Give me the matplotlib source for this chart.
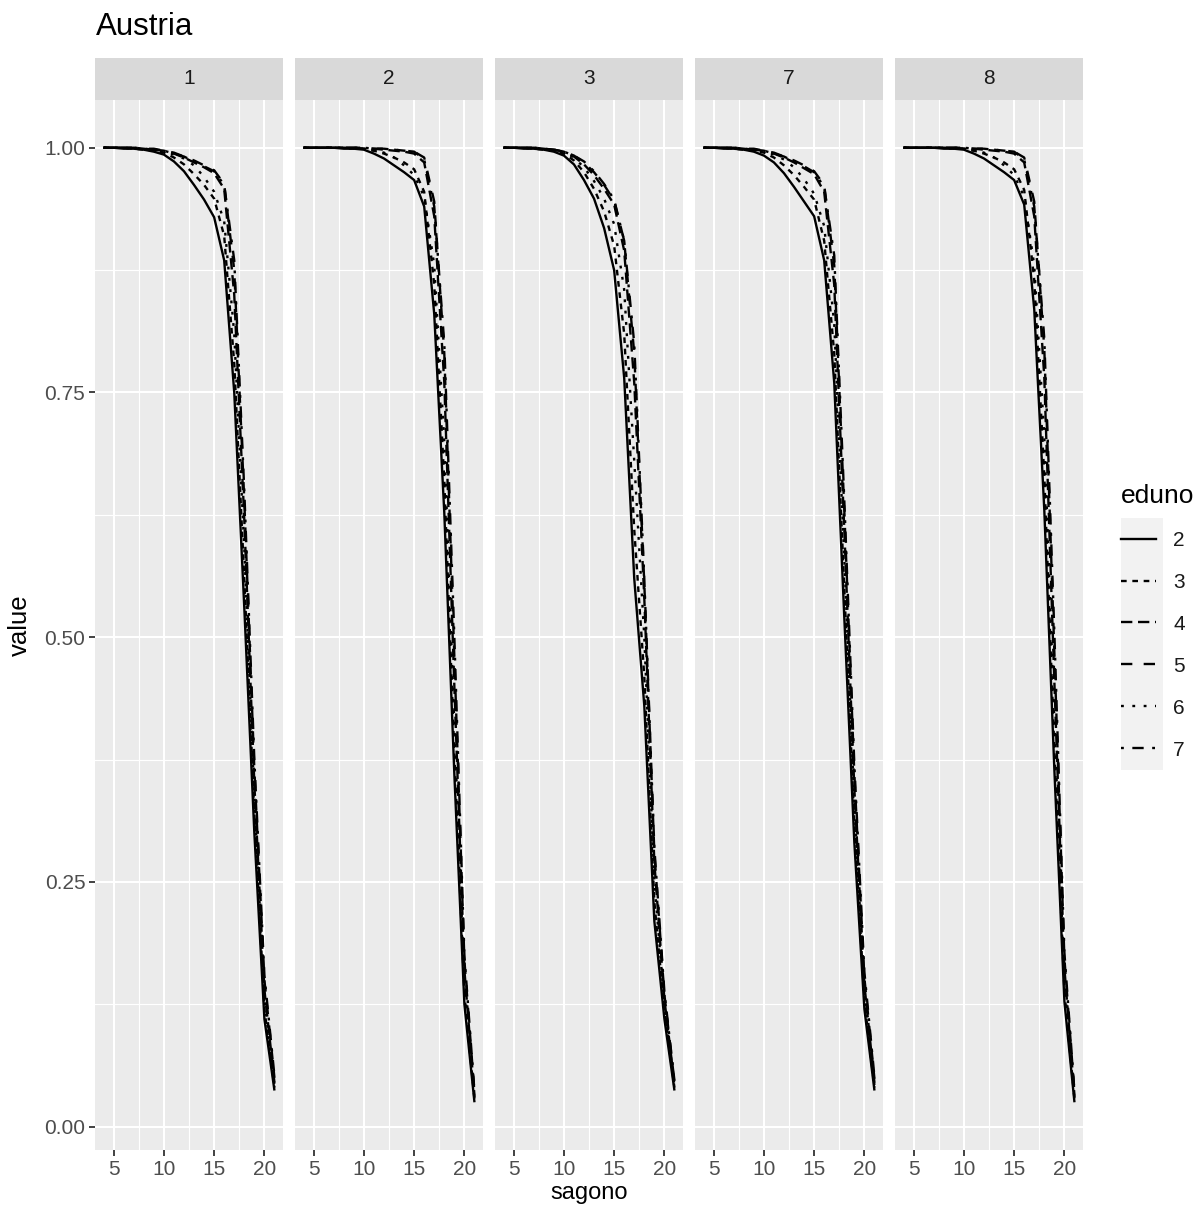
import matplotlib
matplotlib.use('Agg')
import matplotlib.pyplot as plt
from matplotlib.lines import Line2D
from matplotlib.patches import Rectangle
import numpy as np

plt.rcParams['font.family'] = ['Liberation Sans', 'DejaVu Sans']

# --- data ---
country = 'Austria'
ages = [4, 5, 6, 7, 8, 9, 10, 11, 12, 13, 14, 15, 16, 17, 18, 19, 20, 21]
facets = ['1', '2', '3', '7', '8']
edu_levels = ['2', '3', '4', '5', '6', '7']

f1_e2 = [1.000, 1.000, 0.999, 0.999, 0.998, 0.996, 0.993, 0.986, 0.976, 0.962, 0.947, 0.929, 0.885, 0.750, 0.530, 0.300, 0.110, 0.037]
f1_e3 = [1.000, 1.000, 1.000, 0.999, 0.998, 0.997, 0.995, 0.990, 0.983, 0.973, 0.962, 0.948, 0.910, 0.780, 0.560, 0.320, 0.120, 0.040]
f1_e4 = [1.000, 1.000, 1.000, 1.000, 0.999, 0.998, 0.997, 0.994, 0.990, 0.985, 0.980, 0.974, 0.958, 0.850, 0.620, 0.350, 0.140, 0.045]
f1_e5 = [1.000, 1.000, 1.000, 1.000, 0.999, 0.999, 0.997, 0.995, 0.991, 0.987, 0.982, 0.977, 0.963, 0.875, 0.640, 0.365, 0.150, 0.050]
f1_e6 = [1.000, 1.000, 1.000, 0.999, 0.999, 0.998, 0.996, 0.993, 0.989, 0.982, 0.970, 0.955, 0.925, 0.810, 0.590, 0.335, 0.130, 0.042]
f1_e7 = [1.000, 1.000, 1.000, 1.000, 0.999, 0.998, 0.997, 0.994, 0.991, 0.986, 0.981, 0.976, 0.962, 0.885, 0.650, 0.375, 0.155, 0.052]

f2_e2 = [1.000, 1.000, 1.000, 1.000, 0.999, 0.999, 0.998, 0.994, 0.989, 0.982, 0.975, 0.967, 0.940, 0.830, 0.627, 0.360, 0.125, 0.025]
f2_e3 = [1.000, 1.000, 1.000, 1.000, 1.000, 0.999, 0.999, 0.997, 0.994, 0.990, 0.985, 0.978, 0.955, 0.860, 0.660, 0.380, 0.135, 0.028]
f2_e4 = [1.000, 1.000, 1.000, 1.000, 1.000, 1.000, 0.999, 0.999, 0.998, 0.997, 0.996, 0.994, 0.985, 0.930, 0.760, 0.450, 0.160, 0.032]
f2_e5 = [1.000, 1.000, 1.000, 1.000, 1.000, 1.000, 1.000, 0.999, 0.999, 0.998, 0.997, 0.996, 0.990, 0.945, 0.790, 0.480, 0.170, 0.035]
f2_e6 = [1.000, 1.000, 1.000, 1.000, 1.000, 0.999, 0.999, 0.997, 0.995, 0.990, 0.982, 0.972, 0.950, 0.880, 0.700, 0.410, 0.145, 0.030]
f2_e7 = [1.000, 1.000, 1.000, 1.000, 1.000, 1.000, 1.000, 0.999, 0.999, 0.998, 0.997, 0.996, 0.988, 0.940, 0.800, 0.500, 0.175, 0.036]

f3_e2 = [1.000, 1.000, 0.999, 0.999, 0.998, 0.996, 0.992, 0.983, 0.967, 0.948, 0.918, 0.875, 0.765, 0.560, 0.430, 0.210, 0.110, 0.037]
f3_e3 = [1.000, 1.000, 1.000, 0.999, 0.998, 0.997, 0.994, 0.987, 0.975, 0.958, 0.935, 0.900, 0.810, 0.610, 0.460, 0.230, 0.118, 0.040]
f3_e4 = [1.000, 1.000, 1.000, 1.000, 0.999, 0.998, 0.996, 0.991, 0.983, 0.972, 0.958, 0.942, 0.895, 0.760, 0.540, 0.270, 0.130, 0.044]
f3_e5 = [1.000, 1.000, 1.000, 1.000, 0.999, 0.998, 0.996, 0.992, 0.985, 0.975, 0.962, 0.946, 0.905, 0.790, 0.555, 0.280, 0.135, 0.046]
f3_e6 = [1.000, 1.000, 1.000, 0.999, 0.999, 0.997, 0.995, 0.990, 0.980, 0.966, 0.948, 0.922, 0.855, 0.680, 0.500, 0.250, 0.125, 0.042]
f3_e7 = [1.000, 1.000, 1.000, 1.000, 0.999, 0.998, 0.996, 0.992, 0.986, 0.976, 0.963, 0.947, 0.905, 0.800, 0.560, 0.285, 0.138, 0.047]

f7_e2 = [1.000, 1.000, 0.999, 0.999, 0.998, 0.996, 0.992, 0.985, 0.974, 0.960, 0.945, 0.930, 0.885, 0.760, 0.520, 0.290, 0.120, 0.037]
f7_e3 = [1.000, 1.000, 1.000, 0.999, 0.998, 0.997, 0.995, 0.990, 0.982, 0.972, 0.960, 0.947, 0.905, 0.790, 0.550, 0.310, 0.128, 0.040]
f7_e4 = [1.000, 1.000, 1.000, 1.000, 0.999, 0.998, 0.997, 0.994, 0.990, 0.985, 0.979, 0.973, 0.955, 0.860, 0.610, 0.345, 0.145, 0.045]
f7_e5 = [1.000, 1.000, 1.000, 1.000, 0.999, 0.999, 0.997, 0.995, 0.991, 0.987, 0.982, 0.976, 0.962, 0.880, 0.630, 0.360, 0.152, 0.049]
f7_e6 = [1.000, 1.000, 1.000, 0.999, 0.999, 0.998, 0.996, 0.993, 0.988, 0.980, 0.968, 0.953, 0.920, 0.820, 0.580, 0.330, 0.135, 0.042]
f7_e7 = [1.000, 1.000, 1.000, 1.000, 0.999, 0.998, 0.997, 0.994, 0.991, 0.986, 0.981, 0.975, 0.960, 0.890, 0.640, 0.370, 0.158, 0.051]

f8_e2 = [1.000, 1.000, 1.000, 1.000, 0.999, 0.999, 0.998, 0.994, 0.989, 0.982, 0.975, 0.967, 0.942, 0.835, 0.630, 0.365, 0.128, 0.025]
f8_e3 = [1.000, 1.000, 1.000, 1.000, 1.000, 0.999, 0.999, 0.997, 0.994, 0.990, 0.985, 0.978, 0.957, 0.865, 0.665, 0.385, 0.138, 0.028]
f8_e4 = [1.000, 1.000, 1.000, 1.000, 1.000, 1.000, 0.999, 0.999, 0.998, 0.997, 0.996, 0.994, 0.985, 0.930, 0.765, 0.455, 0.162, 0.032]
f8_e5 = [1.000, 1.000, 1.000, 1.000, 1.000, 1.000, 1.000, 0.999, 0.999, 0.998, 0.997, 0.996, 0.990, 0.945, 0.795, 0.485, 0.172, 0.035]
f8_e6 = [1.000, 1.000, 1.000, 1.000, 1.000, 0.999, 0.999, 0.997, 0.995, 0.990, 0.982, 0.972, 0.950, 0.880, 0.705, 0.415, 0.148, 0.030]
f8_e7 = [1.000, 1.000, 1.000, 1.000, 1.000, 1.000, 1.000, 0.999, 0.999, 0.998, 0.997, 0.996, 0.988, 0.940, 0.805, 0.505, 0.178, 0.036]

values = {
    '1': [f1_e2, f1_e3, f1_e4, f1_e5, f1_e6, f1_e7],
    '2': [f2_e2, f2_e3, f2_e4, f2_e5, f2_e6, f2_e7],
    '3': [f3_e2, f3_e3, f3_e4, f3_e5, f3_e6, f3_e7],
    '7': [f7_e2, f7_e3, f7_e4, f7_e5, f7_e6, f7_e7],
    '8': [f8_e2, f8_e3, f8_e4, f8_e5, f8_e6, f8_e7],
}

# ggplot linetypes: solid, 22, 42, 44, 13, 1343
k = 1.2
linestyles = ['-', (0, (2 * k, 2 * k)), (0, (4 * k, 2 * k)), (0, (4 * k, 4 * k)),
              (0, (1 * k, 3 * k)), (0, (1 * k, 3 * k, 4 * k, 3 * k))]

W, H = 1202, 1205
fig = plt.figure(figsize=(W / 100, H / 100), dpi=100)
fig.patch.set_facecolor('white')

panel_bg = '#EBEBEB'
strip_bg = '#D9D9D9'
tick_col = '#4D4D4D'
lw_data = 1.7

# shared limits with ggplot style 5% expansion
all_vals = np.concatenate([np.array(v) for f in facets for v in values[f]])
ymin, ymax = all_vals.min(), all_vals.max()
ypad = (ymax - ymin) * 0.05
xpad = (max(ages) - min(ages)) * 0.05

def fx(px):
    return px / W

def fy(py):
    return 1 - py / H

ax_top, ax_bot = 100, 1150
strip_top = 58
for i, f in enumerate(facets):
    left = 95 + 200 * i
    ax = fig.add_axes([fx(left), fy(ax_bot), 188 / W, (ax_bot - ax_top) / H])
    ax.set_facecolor(panel_bg)
    for s in ax.spines.values():
        s.set_visible(False)
    ax.set_xlim(min(ages) - xpad, max(ages) + xpad)
    ax.set_ylim(ymin - ypad, ymax + ypad)
    ax.set_xticks([5, 10, 15, 20])
    ax.set_xticks([7.5, 12.5, 17.5], minor=True)
    ax.set_yticks([0, 0.25, 0.5, 0.75, 1.0])
    ax.set_yticks([0.125, 0.375, 0.625, 0.875], minor=True)
    ax.grid(which='major', color='white', linewidth=1.5)
    ax.grid(which='minor', color='white', linewidth=0.8)
    ax.set_axisbelow(True)
    ax.tick_params(which='major', length=4, width=1.3, color='#333333',
                   labelsize=15, labelcolor=tick_col, pad=3)
    ax.tick_params(which='minor', length=0)
    if i == 0:
        ax.set_yticklabels(['0.00', '0.25', '0.50', '0.75', '1.00'])
    else:
        ax.tick_params(axis='y', which='major', length=0, labelleft=False)

    for series, ls in zip(values[f], linestyles):
        ax.plot(ages, series, color='black', linewidth=lw_data, linestyle=ls,
                solid_capstyle='butt', dash_capstyle='butt')

    # facet strip
    sax = fig.add_axes([fx(left), fy(ax_top), 188 / W, (ax_top - strip_top) / H])
    sax.set_facecolor(strip_bg)
    sax.set_xticks([])
    sax.set_yticks([])
    for s in sax.spines.values():
        s.set_visible(False)
    sax.text(0.5, 0.5, f, ha='center', va='center', fontsize=15,
             color='#1A1A1A', transform=sax.transAxes)

# titles
fig.text(fx(96), fy(27), country, fontsize=22.5, ha='left', va='center', color='black')
fig.text(fx(20), fy(625), 'value', fontsize=18.5, rotation=90, ha='center',
         va='center', color='black')
fig.text(fx(589), fy(1204), 'sagono', fontsize=17, ha='center', va='bottom',
         color='black')

# legend
fig.patches.append(Rectangle((fx(1121), fy(770)), 42 / W, (770 - 518) / H,
                             transform=fig.transFigure, facecolor='#F2F2F2',
                             edgecolor='none', zorder=0))
handles = [Line2D([], [], color='black', linewidth=lw_data, linestyle=ls,
                  dash_capstyle='butt') for ls in linestyles]
leg = fig.legend(handles, edu_levels, title='eduno', loc='upper left',
                 bbox_to_anchor=(fx(1121), fy(484)), frameon=False,
                 fontsize=15, title_fontsize=19, borderpad=0, borderaxespad=0,
                 handlelength=1.7, handletextpad=0.8, labelspacing=1.1,
                 alignment='left')
for t in leg.get_texts():
    t.set_color('#1A1A1A')

fig.savefig('out.png', dpi=100)
